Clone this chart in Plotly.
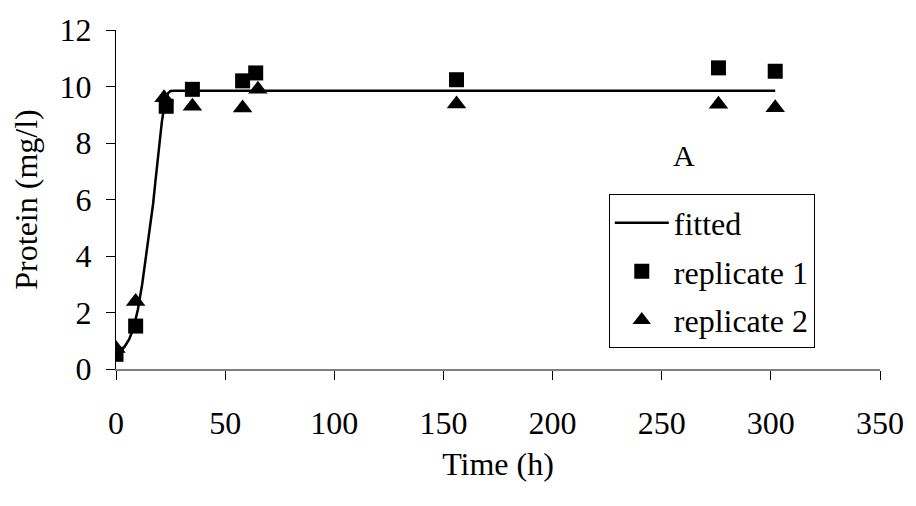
import plotly.graph_objects as go

# Data
fit_t = [0, 2, 4, 6, 8, 10, 12, 14, 16, 17, 18, 19, 20, 21, 22, 23, 24, 25, 27, 302]
fit_y = [0.5, 0.62, 0.8, 1.05, 1.45, 2.1, 3.0, 4.1, 5.2, 5.85, 6.6, 7.4, 8.1, 8.75, 9.25, 9.6, 9.78, 9.84, 9.85, 9.85]

rep1_t = [0, 9, 23, 35, 58, 64, 156, 276, 302]
rep1_y = [0.52, 1.52, 9.3, 9.9, 10.2, 10.48, 10.24, 10.66, 10.54]

rep2_t = [0, 9, 22, 35, 58, 65, 156, 276, 302]
rep2_y = [0.73, 2.39, 9.6, 9.3, 9.24, 9.9, 9.38, 9.37, 9.25]

x_ticks = [0, 50, 100, 150, 200, 250, 300, 350]
y_ticks = [0, 2, 4, 6, 8, 10, 12]

FONT = "Liberation Serif, Times New Roman, serif"

fig = go.Figure()
fig.add_trace(go.Scatter(x=fit_t, y=fit_y, mode="lines", name="fitted",
                         line=dict(color="black", width=2.5), legendgroup="a"))
fig.add_trace(go.Scatter(x=rep1_t, y=rep1_y, mode="markers", name="replicate 1",
                         marker=dict(symbol="square", size=15, color="black"), legendgroup="b"))
fig.add_trace(go.Scatter(x=rep2_t, y=rep2_y, mode="markers", name="replicate 2",
                         marker=dict(symbol="triangle-up", size=17, color="black"), legendgroup="c"))

fig.add_annotation(x=260, y=7.55, text="A", showarrow=False,
                   font=dict(family=FONT, size=30, color="black"))

fig.update_layout(
    width=916, height=506,
    margin=dict(l=116, r=29, t=22, b=137),
    paper_bgcolor="white", plot_bgcolor="white",
    font=dict(family=FONT, size=32, color="black"),
    showlegend=True,
    legend=dict(x=0.645, y=0.515, xanchor="left", yanchor="top",
                bordercolor="black", borderwidth=1, bgcolor="white",
                font=dict(family=FONT, size=32, color="black"),
                tracegroupgap=4, itemwidth=54),
    xaxis=dict(range=[0, 350], tickvals=x_ticks, showgrid=False, zeroline=False,
               showline=True, linecolor="#808080", linewidth=2,
               ticks="outside", ticklen=9, tickcolor="black", tickwidth=1,
               ticklabelstandoff=16,
               title=dict(text="Time (h)", standoff=12, font=dict(size=32))),
    yaxis=dict(range=[0, 12], tickvals=y_ticks, showgrid=False, zeroline=False,
               showline=True, linecolor="black", linewidth=1,
               ticks="outside", ticklen=9, tickcolor="black", tickwidth=1,
               ticklabelstandoff=8,
               title=dict(text="Protein (mg/l)", standoff=12, font=dict(size=32))),
)

fig.write_html("out.html")
